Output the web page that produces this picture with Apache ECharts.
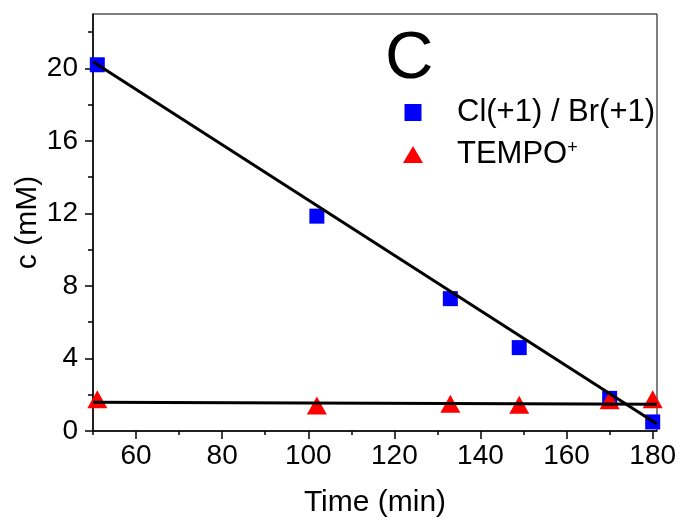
<!DOCTYPE html>
<html>
<head>
<meta charset="utf-8">
<script src="https://cdn.jsdelivr.net/npm/echarts@6/dist/echarts.min.js"></script>
<style>html,body{margin:0;padding:0;background:#fff}#c{width:681px;height:524px}</style>
</head>
<body>
<div id="c"></div>
<script>
// Data
var timeCl = [51, 102, 133, 149, 170, 180];
var valCl = [20.2, 11.85, 7.3, 4.6, 1.8, 0.5];
var timeTempo = [51, 102, 133, 149, 170, 180];
var valTempo = [1.75, 1.4, 1.5, 1.45, 1.7, 1.75];
var fitX = [50, 181];
var fitCl = [20.37, 0.39];
var fitTempo = [1.58, 1.47];
var xMajor = [60, 80, 100, 120, 140, 160, 180];
var xMinor = [50, 70, 90, 110, 130, 150, 170];
var yMajor = [0, 4, 8, 12, 16, 20];
var yMinor = [2, 6, 10, 14, 18, 22];
var nameCl = 'Cl(+1) / Br(+1)';
var nameTempo = 'TEMPO+';

function pairs(xs, ys) { return xs.map(function (x, i) { return [x, ys[i]]; }); }

var FONT = '"Liberation Sans", Arial, Helvetica, sans-serif';
var chart = echarts.init(document.getElementById('c'), null, {renderer: 'canvas'});
var baseX = {type: 'value', min: 50, max: 181, gridIndex: 0, position: 'bottom', offset: 0};
var baseY = {type: 'value', min: 0, max: 23, gridIndex: 0, position: 'left', offset: 0};
chart.setOption({
  animation: false,
  backgroundColor: '#fff',
  textStyle: {fontFamily: FONT},
  title: {
    text: 'C', left: 380, top: 21,
    textStyle: {fontSize: 67, fontWeight: 'normal', color: '#000', fontFamily: FONT}
  },
  grid: {left: 93, right: 24, top: 14, bottom: 93, show: true, borderColor: '#000', borderWidth: 1, backgroundColor: 'transparent'},
  legend: {
    orient: 'vertical', left: 398, top: 92, itemWidth: 20, itemHeight: 17, itemGap: 11,
    symbolKeepAspect: true,
    data: [
      {name: nameCl, icon: 'path://M0,0L1,0L1,1L0,1Z'},
      {name: nameTempo, icon: 'triangle'}
    ],
    formatter: function (n) { return n === nameTempo ? '{a|TEMPO}{s|+}' : '{a|' + n + '}'; },
    textStyle: {
      color: '#000', fontSize: 31, fontFamily: FONT, padding: [0, 0, 0, 29],
      rich: {
        a: {fontSize: 31, lineHeight: 30, color: '#000', fontFamily: FONT},
        s: {fontSize: 18, lineHeight: 18, color: '#000', fontFamily: FONT, verticalAlign: 'top'}
      }
    }
  },
  xAxis: [
    Object.assign({}, baseX, {
      name: 'Time (min)', nameLocation: 'middle', nameGap: 57, nameMoveOverlap: false,
      nameTextStyle: {fontSize: 30, color: '#000', fontFamily: FONT},
      axisLine: {show: true, onZero: false, lineStyle: {color: '#000', width: 1.5}},
      axisTick: {show: true, inside: false, length: 8, lineStyle: {color: '#000', width: 1.5}, customValues: xMajor},
      axisLabel: {show: true, margin: 11, fontSize: 28, color: '#000', fontFamily: FONT, customValues: xMajor},
      splitLine: {show: false}
    }),
    Object.assign({}, baseX, {
      axisLine: {show: false, onZero: false},
      axisTick: {show: true, inside: false, length: 4, lineStyle: {color: '#000', width: 1.5}, customValues: xMinor},
      axisLabel: {show: false},
      splitLine: {show: false}
    })
  ],
  yAxis: [
    Object.assign({}, baseY, {
      name: 'c (mM)', nameLocation: 'middle', nameGap: 50, nameMoveOverlap: false,
      nameTextStyle: {fontSize: 30, color: '#000', fontFamily: FONT},
      axisLine: {show: true, onZero: false, lineStyle: {color: '#000', width: 1.5}},
      axisTick: {show: true, inside: false, length: 8, lineStyle: {color: '#000', width: 1.5}, customValues: yMajor},
      axisLabel: {show: true, margin: 15, fontSize: 28, color: '#000', fontFamily: FONT, customValues: yMajor},
      splitLine: {show: false}
    }),
    Object.assign({}, baseY, {
      axisLine: {show: false, onZero: false},
      axisTick: {show: true, inside: false, length: 5, lineStyle: {color: '#000', width: 1.5}, customValues: yMinor},
      axisLabel: {show: false},
      splitLine: {show: false}
    })
  ],
  series: [
    {
      name: nameCl, type: 'scatter', xAxisIndex: 0, yAxisIndex: 0,
      symbol: 'rect', symbolSize: 15, itemStyle: {color: '#0000ff', opacity: 1},
      data: pairs(timeCl, valCl), z: 2
    },
    {
      name: nameTempo, type: 'scatter', xAxisIndex: 0, yAxisIndex: 0,
      symbol: 'triangle', symbolSize: [20, 18], itemStyle: {color: '#ff0000', opacity: 1},
      data: pairs(timeTempo, valTempo), z: 3
    },
    {
      name: 'fitCl', type: 'line', xAxisIndex: 0, yAxisIndex: 0, showSymbol: false, symbol: 'none',
      lineStyle: {color: '#000', width: 3}, data: pairs(fitX, fitCl), z: 4, silent: true
    },
    {
      name: 'fitTempo', type: 'line', xAxisIndex: 0, yAxisIndex: 0, showSymbol: false, symbol: 'none',
      lineStyle: {color: '#000', width: 3}, data: pairs(fitX, fitTempo), z: 4, silent: true
    }
  ]
});
</script>
</body>
</html>
